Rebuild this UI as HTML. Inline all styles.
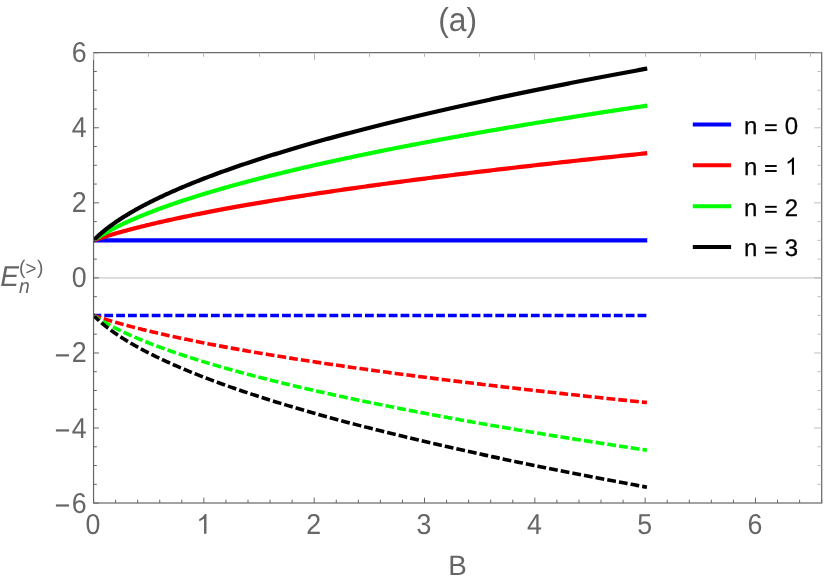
<!DOCTYPE html>
<html><head><meta charset="utf-8"><title>(a)</title>
<style>
html,body{margin:0;padding:0;background:#fff;}
body{width:830px;height:583px;overflow:hidden;position:relative;font-family:"Liberation Sans",sans-serif;}
</style></head><body>
<svg width="830" height="583" viewBox="0 0 830 583" style="position:absolute;left:0;top:0;font-family:'Liberation Sans',sans-serif;text-rendering:geometricPrecision;will-change:transform">
<rect width="830" height="583" fill="#fff"/>
<line x1="93.55" y1="277.95" x2="821.7" y2="277.95" stroke="#bdbdbd" stroke-width="1"/>
<clipPath id="cp"><rect x="93.55" y="52.65" width="728.15" height="450.35"/></clipPath>
<g fill="none" stroke-linejoin="round" clip-path="url(#cp)">
<path d="M93.55,240.37 L93.55,240.37 L93.56,240.37 L93.58,240.37 L93.61,240.37 L93.64,240.37 L93.67,240.37 L93.72,240.37 L93.77,240.37 L93.83,240.37 L93.89,240.37 L93.97,240.37 L94.05,240.37 L94.13,240.37 L94.23,240.37 L94.33,240.37 L94.43,240.37 L94.55,240.37 L94.67,240.37 L94.79,240.37 L94.93,240.37 L95.07,240.37 L95.22,240.37 L95.37,240.37 L95.54,240.37 L95.70,240.37 L95.88,240.37 L96.06,240.37 L96.25,240.37 L96.45,240.37 L96.65,240.37 L96.86,240.37 L97.08,240.37 L97.30,240.37 L97.54,240.37 L97.77,240.37 L98.02,240.37 L98.27,240.37 L98.53,240.37 L98.79,240.37 L99.07,240.37 L99.35,240.37 L99.63,240.37 L99.92,240.37 L100.22,240.37 L100.53,240.37 L100.84,240.37 L101.17,240.37 L101.49,240.37 L101.83,240.37 L102.17,240.37 L102.52,240.37 L102.87,240.37 L103.23,240.37 L103.60,240.37 L103.98,240.37 L104.36,240.37 L104.75,240.37 L105.15,240.37 L105.55,240.37 L105.96,240.37 L106.38,240.37 L106.80,240.37 L107.23,240.37 L107.67,240.37 L108.12,240.37 L108.57,240.37 L109.03,240.37 L109.49,240.37 L109.96,240.37 L110.44,240.37 L110.93,240.37 L111.42,240.37 L111.92,240.37 L112.43,240.37 L112.94,240.37 L113.46,240.37 L113.99,240.37 L114.52,240.37 L115.07,240.37 L115.61,240.37 L116.17,240.37 L116.73,240.37 L117.30,240.37 L117.88,240.37 L118.46,240.37 L119.05,240.37 L119.64,240.37 L120.25,240.37 L120.86,240.37 L121.47,240.37 L122.10,240.37 L122.73,240.37 L123.37,240.37 L124.01,240.37 L124.66,240.37 L125.32,240.37 L125.99,240.37 L126.66,240.37 L127.34,240.37 L128.02,240.37 L128.72,240.37 L129.42,240.37 L130.12,240.37 L130.84,240.37 L131.56,240.37 L132.29,240.37 L133.02,240.37 L133.76,240.37 L134.51,240.37 L135.26,240.37 L136.03,240.37 L136.80,240.37 L137.57,240.37 L138.35,240.37 L139.14,240.37 L139.94,240.37 L140.74,240.37 L141.55,240.37 L142.37,240.37 L143.19,240.37 L144.02,240.37 L144.86,240.37 L145.71,240.37 L146.56,240.37 L147.42,240.37 L148.28,240.37 L149.15,240.37 L150.03,240.37 L150.92,240.37 L151.81,240.37 L152.71,240.37 L153.62,240.37 L154.53,240.37 L155.45,240.37 L156.38,240.37 L157.31,240.37 L158.26,240.37 L159.20,240.37 L160.16,240.37 L161.12,240.37 L162.09,240.37 L163.07,240.37 L164.05,240.37 L165.04,240.37 L166.03,240.37 L167.04,240.37 L168.05,240.37 L169.06,240.37 L170.09,240.37 L171.12,240.37 L172.16,240.37 L173.20,240.37 L174.25,240.37 L175.31,240.37 L176.38,240.37 L177.45,240.37 L178.53,240.37 L179.61,240.37 L180.71,240.37 L181.81,240.37 L182.91,240.37 L184.03,240.37 L185.15,240.37 L186.27,240.37 L187.41,240.37 L188.55,240.37 L189.70,240.37 L190.85,240.37 L192.01,240.37 L193.18,240.37 L194.36,240.37 L195.54,240.37 L196.73,240.37 L197.93,240.37 L199.13,240.37 L200.34,240.37 L201.56,240.37 L202.78,240.37 L204.01,240.37 L205.25,240.37 L206.49,240.37 L207.74,240.37 L209.00,240.37 L210.27,240.37 L211.54,240.37 L212.82,240.37 L214.11,240.37 L215.40,240.37 L216.70,240.37 L218.00,240.37 L219.32,240.37 L220.64,240.37 L221.97,240.37 L223.30,240.37 L224.64,240.37 L225.99,240.37 L227.34,240.37 L228.71,240.37 L230.07,240.37 L231.45,240.37 L232.83,240.37 L234.22,240.37 L235.62,240.37 L237.02,240.37 L238.43,240.37 L239.85,240.37 L241.27,240.37 L242.70,240.37 L244.14,240.37 L245.58,240.37 L247.04,240.37 L248.49,240.37 L249.96,240.37 L251.43,240.37 L252.91,240.37 L254.40,240.37 L255.89,240.37 L257.39,240.37 L258.90,240.37 L260.41,240.37 L261.93,240.37 L263.46,240.37 L264.99,240.37 L266.53,240.37 L268.08,240.37 L269.63,240.37 L271.20,240.37 L272.76,240.37 L274.34,240.37 L275.92,240.37 L277.51,240.37 L279.11,240.37 L280.71,240.37 L282.32,240.37 L283.94,240.37 L285.56,240.37 L287.19,240.37 L288.83,240.37 L290.47,240.37 L292.13,240.37 L293.78,240.37 L295.45,240.37 L297.12,240.37 L298.80,240.37 L300.49,240.37 L302.18,240.37 L303.88,240.37 L305.59,240.37 L307.30,240.37 L309.02,240.37 L310.75,240.37 L312.48,240.37 L314.22,240.37 L315.97,240.37 L317.72,240.37 L319.49,240.37 L321.25,240.37 L323.03,240.37 L324.81,240.37 L326.60,240.37 L328.40,240.37 L330.20,240.37 L332.01,240.37 L333.83,240.37 L335.65,240.37 L337.48,240.37 L339.32,240.37 L341.16,240.37 L343.01,240.37 L344.87,240.37 L346.74,240.37 L348.61,240.37 L350.49,240.37 L352.37,240.37 L354.27,240.37 L356.17,240.37 L358.07,240.37 L359.99,240.37 L361.91,240.37 L363.83,240.37 L365.77,240.37 L367.71,240.37 L369.66,240.37 L371.61,240.37 L373.57,240.37 L375.54,240.37 L377.52,240.37 L379.50,240.37 L381.49,240.37 L383.48,240.37 L385.49,240.37 L387.50,240.37 L389.51,240.37 L391.54,240.37 L393.57,240.37 L395.61,240.37 L397.65,240.37 L399.70,240.37 L401.76,240.37 L403.82,240.37 L405.90,240.37 L407.98,240.37 L410.06,240.37 L412.15,240.37 L414.25,240.37 L416.36,240.37 L418.47,240.37 L420.59,240.37 L422.72,240.37 L424.85,240.37 L427.00,240.37 L429.14,240.37 L431.30,240.37 L433.46,240.37 L435.63,240.37 L437.80,240.37 L439.99,240.37 L442.17,240.37 L444.37,240.37 L446.57,240.37 L448.78,240.37 L451.00,240.37 L453.22,240.37 L455.45,240.37 L457.69,240.37 L459.94,240.37 L462.19,240.37 L464.45,240.37 L466.71,240.37 L468.98,240.37 L471.26,240.37 L473.55,240.37 L475.84,240.37 L478.14,240.37 L480.45,240.37 L482.76,240.37 L485.08,240.37 L487.41,240.37 L489.74,240.37 L492.08,240.37 L494.43,240.37 L496.78,240.37 L499.14,240.37 L501.51,240.37 L503.89,240.37 L506.27,240.37 L508.66,240.37 L511.06,240.37 L513.46,240.37 L515.87,240.37 L518.29,240.37 L520.71,240.37 L523.14,240.37 L525.58,240.37 L528.02,240.37 L530.47,240.37 L532.93,240.37 L535.40,240.37 L537.87,240.37 L540.35,240.37 L542.83,240.37 L545.32,240.37 L547.82,240.37 L550.33,240.37 L552.84,240.37 L555.36,240.37 L557.89,240.37 L560.42,240.37 L562.97,240.37 L565.51,240.37 L568.07,240.37 L570.63,240.37 L573.20,240.37 L575.77,240.37 L578.35,240.37 L580.94,240.37 L583.54,240.37 L586.14,240.37 L588.75,240.37 L591.37,240.37 L593.99,240.37 L596.62,240.37 L599.26,240.37 L601.90,240.37 L604.56,240.37 L607.21,240.37 L609.88,240.37 L612.55,240.37 L615.23,240.37 L617.91,240.37 L620.61,240.37 L623.31,240.37 L626.01,240.37 L628.73,240.37 L631.45,240.37 L634.17,240.37 L636.91,240.37 L639.65,240.37 L642.40,240.37 L645.15,240.37 L647.25,240.37" stroke="#0000ff" stroke-width="4.2"/>
<path d="M93.55,240.37 L93.55,240.37 L93.56,240.36 L93.58,240.36 L93.61,240.35 L93.64,240.34 L93.67,240.32 L93.72,240.31 L93.77,240.29 L93.83,240.27 L93.89,240.25 L93.97,240.23 L94.05,240.20 L94.13,240.17 L94.23,240.14 L94.33,240.10 L94.43,240.07 L94.55,240.03 L94.67,239.99 L94.79,239.95 L94.93,239.90 L95.07,239.85 L95.22,239.80 L95.37,239.75 L95.54,239.70 L95.70,239.64 L95.88,239.58 L96.06,239.52 L96.25,239.46 L96.45,239.39 L96.65,239.33 L96.86,239.26 L97.08,239.18 L97.30,239.11 L97.54,239.03 L97.77,238.96 L98.02,238.88 L98.27,238.79 L98.53,238.71 L98.79,238.62 L99.07,238.54 L99.35,238.44 L99.63,238.35 L99.92,238.26 L100.22,238.16 L100.53,238.06 L100.84,237.96 L101.17,237.86 L101.49,237.76 L101.83,237.65 L102.17,237.54 L102.52,237.43 L102.87,237.32 L103.23,237.21 L103.60,237.09 L103.98,236.97 L104.36,236.85 L104.75,236.73 L105.15,236.61 L105.55,236.48 L105.96,236.36 L106.38,236.23 L106.80,236.10 L107.23,235.97 L107.67,235.84 L108.12,235.70 L108.57,235.57 L109.03,235.43 L109.49,235.29 L109.96,235.15 L110.44,235.00 L110.93,234.86 L111.42,234.71 L111.92,234.57 L112.43,234.42 L112.94,234.27 L113.46,234.11 L113.99,233.96 L114.52,233.80 L115.07,233.65 L115.61,233.49 L116.17,233.33 L116.73,233.17 L117.30,233.01 L117.88,232.84 L118.46,232.68 L119.05,232.51 L119.64,232.35 L120.25,232.18 L120.86,232.01 L121.47,231.84 L122.10,231.66 L122.73,231.49 L123.37,231.31 L124.01,231.14 L124.66,230.96 L125.32,230.78 L125.99,230.60 L126.66,230.42 L127.34,230.24 L128.02,230.05 L128.72,229.87 L129.42,229.68 L130.12,229.50 L130.84,229.31 L131.56,229.12 L132.29,228.93 L133.02,228.74 L133.76,228.55 L134.51,228.35 L135.26,228.16 L136.03,227.96 L136.80,227.77 L137.57,227.57 L138.35,227.37 L139.14,227.17 L139.94,226.97 L140.74,226.77 L141.55,226.57 L142.37,226.37 L143.19,226.16 L144.02,225.96 L144.86,225.75 L145.71,225.55 L146.56,225.34 L147.42,225.13 L148.28,224.92 L149.15,224.71 L150.03,224.50 L150.92,224.29 L151.81,224.08 L152.71,223.87 L153.62,223.65 L154.53,223.44 L155.45,223.22 L156.38,223.01 L157.31,222.79 L158.26,222.57 L159.20,222.35 L160.16,222.13 L161.12,221.91 L162.09,221.69 L163.07,221.47 L164.05,221.25 L165.04,221.03 L166.03,220.80 L167.04,220.58 L168.05,220.36 L169.06,220.13 L170.09,219.90 L171.12,219.68 L172.16,219.45 L173.20,219.22 L174.25,219.00 L175.31,218.77 L176.38,218.54 L177.45,218.31 L178.53,218.08 L179.61,217.84 L180.71,217.61 L181.81,217.38 L182.91,217.15 L184.03,216.91 L185.15,216.68 L186.27,216.44 L187.41,216.21 L188.55,215.97 L189.70,215.74 L190.85,215.50 L192.01,215.26 L193.18,215.03 L194.36,214.79 L195.54,214.55 L196.73,214.31 L197.93,214.07 L199.13,213.83 L200.34,213.59 L201.56,213.35 L202.78,213.11 L204.01,212.86 L205.25,212.62 L206.49,212.38 L207.74,212.13 L209.00,211.89 L210.27,211.65 L211.54,211.40 L212.82,211.16 L214.11,210.91 L215.40,210.66 L216.70,210.42 L218.00,210.17 L219.32,209.92 L220.64,209.68 L221.97,209.43 L223.30,209.18 L224.64,208.93 L225.99,208.68 L227.34,208.43 L228.71,208.18 L230.07,207.93 L231.45,207.68 L232.83,207.43 L234.22,207.18 L235.62,206.93 L237.02,206.68 L238.43,206.42 L239.85,206.17 L241.27,205.92 L242.70,205.66 L244.14,205.41 L245.58,205.16 L247.04,204.90 L248.49,204.65 L249.96,204.39 L251.43,204.14 L252.91,203.88 L254.40,203.63 L255.89,203.37 L257.39,203.11 L258.90,202.86 L260.41,202.60 L261.93,202.34 L263.46,202.08 L264.99,201.83 L266.53,201.57 L268.08,201.31 L269.63,201.05 L271.20,200.79 L272.76,200.53 L274.34,200.27 L275.92,200.01 L277.51,199.75 L279.11,199.49 L280.71,199.23 L282.32,198.97 L283.94,198.71 L285.56,198.45 L287.19,198.19 L288.83,197.93 L290.47,197.66 L292.13,197.40 L293.78,197.14 L295.45,196.88 L297.12,196.61 L298.80,196.35 L300.49,196.09 L302.18,195.82 L303.88,195.56 L305.59,195.29 L307.30,195.03 L309.02,194.76 L310.75,194.50 L312.48,194.23 L314.22,193.97 L315.97,193.70 L317.72,193.44 L319.49,193.17 L321.25,192.91 L323.03,192.64 L324.81,192.37 L326.60,192.11 L328.40,191.84 L330.20,191.57 L332.01,191.30 L333.83,191.04 L335.65,190.77 L337.48,190.50 L339.32,190.23 L341.16,189.97 L343.01,189.70 L344.87,189.43 L346.74,189.16 L348.61,188.89 L350.49,188.62 L352.37,188.35 L354.27,188.08 L356.17,187.81 L358.07,187.54 L359.99,187.27 L361.91,187.00 L363.83,186.73 L365.77,186.46 L367.71,186.19 L369.66,185.92 L371.61,185.65 L373.57,185.38 L375.54,185.11 L377.52,184.84 L379.50,184.56 L381.49,184.29 L383.48,184.02 L385.49,183.75 L387.50,183.48 L389.51,183.20 L391.54,182.93 L393.57,182.66 L395.61,182.39 L397.65,182.11 L399.70,181.84 L401.76,181.57 L403.82,181.29 L405.90,181.02 L407.98,180.75 L410.06,180.47 L412.15,180.20 L414.25,179.92 L416.36,179.65 L418.47,179.38 L420.59,179.10 L422.72,178.83 L424.85,178.55 L427.00,178.28 L429.14,178.00 L431.30,177.73 L433.46,177.45 L435.63,177.18 L437.80,176.90 L439.99,176.63 L442.17,176.35 L444.37,176.08 L446.57,175.80 L448.78,175.52 L451.00,175.25 L453.22,174.97 L455.45,174.69 L457.69,174.42 L459.94,174.14 L462.19,173.86 L464.45,173.59 L466.71,173.31 L468.98,173.03 L471.26,172.76 L473.55,172.48 L475.84,172.20 L478.14,171.92 L480.45,171.65 L482.76,171.37 L485.08,171.09 L487.41,170.81 L489.74,170.54 L492.08,170.26 L494.43,169.98 L496.78,169.70 L499.14,169.42 L501.51,169.14 L503.89,168.87 L506.27,168.59 L508.66,168.31 L511.06,168.03 L513.46,167.75 L515.87,167.47 L518.29,167.19 L520.71,166.91 L523.14,166.63 L525.58,166.36 L528.02,166.08 L530.47,165.80 L532.93,165.52 L535.40,165.24 L537.87,164.96 L540.35,164.68 L542.83,164.40 L545.32,164.12 L547.82,163.84 L550.33,163.56 L552.84,163.28 L555.36,163.00 L557.89,162.72 L560.42,162.43 L562.97,162.15 L565.51,161.87 L568.07,161.59 L570.63,161.31 L573.20,161.03 L575.77,160.75 L578.35,160.47 L580.94,160.19 L583.54,159.91 L586.14,159.62 L588.75,159.34 L591.37,159.06 L593.99,158.78 L596.62,158.50 L599.26,158.22 L601.90,157.94 L604.56,157.65 L607.21,157.37 L609.88,157.09 L612.55,156.81 L615.23,156.53 L617.91,156.24 L620.61,155.96 L623.31,155.68 L626.01,155.40 L628.73,155.11 L631.45,154.83 L634.17,154.55 L636.91,154.27 L639.65,153.98 L642.40,153.70 L645.15,153.42 L647.24,153.20" stroke="#ff0000" stroke-width="4.2"/>
<path d="M93.55,240.37 L93.55,240.36 L93.56,240.36 L93.58,240.35 L93.61,240.33 L93.64,240.31 L93.67,240.28 L93.72,240.25 L93.77,240.22 L93.83,240.18 L93.89,240.13 L93.97,240.08 L94.05,240.03 L94.13,239.97 L94.23,239.91 L94.33,239.84 L94.43,239.77 L94.55,239.70 L94.67,239.61 L94.79,239.53 L94.93,239.44 L95.07,239.35 L95.22,239.25 L95.37,239.15 L95.54,239.04 L95.70,238.93 L95.88,238.81 L96.06,238.69 L96.25,238.57 L96.45,238.44 L96.65,238.31 L96.86,238.18 L97.08,238.04 L97.30,237.89 L97.54,237.75 L97.77,237.60 L98.02,237.44 L98.27,237.28 L98.53,237.12 L98.79,236.95 L99.07,236.78 L99.35,236.61 L99.63,236.43 L99.92,236.25 L100.22,236.07 L100.53,235.88 L100.84,235.69 L101.17,235.50 L101.49,235.30 L101.83,235.10 L102.17,234.90 L102.52,234.69 L102.87,234.48 L103.23,234.27 L103.60,234.06 L103.98,233.84 L104.36,233.62 L104.75,233.39 L105.15,233.17 L105.55,232.94 L105.96,232.70 L106.38,232.47 L106.80,232.23 L107.23,231.99 L107.67,231.75 L108.12,231.50 L108.57,231.25 L109.03,231.00 L109.49,230.75 L109.96,230.50 L110.44,230.24 L110.93,229.98 L111.42,229.72 L111.92,229.45 L112.43,229.19 L112.94,228.92 L113.46,228.65 L113.99,228.37 L114.52,228.10 L115.07,227.82 L115.61,227.54 L116.17,227.26 L116.73,226.98 L117.30,226.70 L117.88,226.41 L118.46,226.12 L119.05,225.83 L119.64,225.54 L120.25,225.25 L120.86,224.95 L121.47,224.65 L122.10,224.36 L122.73,224.06 L123.37,223.75 L124.01,223.45 L124.66,223.15 L125.32,222.84 L125.99,222.53 L126.66,222.22 L127.34,221.91 L128.02,221.60 L128.72,221.29 L129.42,220.97 L130.12,220.66 L130.84,220.34 L131.56,220.02 L132.29,219.70 L133.02,219.38 L133.76,219.06 L134.51,218.73 L135.26,218.41 L136.03,218.08 L136.80,217.75 L137.57,217.42 L138.35,217.10 L139.14,216.76 L139.94,216.43 L140.74,216.10 L141.55,215.77 L142.37,215.43 L143.19,215.10 L144.02,214.76 L144.86,214.42 L145.71,214.08 L146.56,213.74 L147.42,213.40 L148.28,213.06 L149.15,212.72 L150.03,212.37 L150.92,212.03 L151.81,211.68 L152.71,211.34 L153.62,210.99 L154.53,210.64 L155.45,210.29 L156.38,209.94 L157.31,209.59 L158.26,209.24 L159.20,208.89 L160.16,208.54 L161.12,208.19 L162.09,207.83 L163.07,207.48 L164.05,207.12 L165.04,206.77 L166.03,206.41 L167.04,206.05 L168.05,205.69 L169.06,205.33 L170.09,204.97 L171.12,204.61 L172.16,204.25 L173.20,203.89 L174.25,203.53 L175.31,203.17 L176.38,202.80 L177.45,202.44 L178.53,202.08 L179.61,201.71 L180.71,201.35 L181.81,200.98 L182.91,200.61 L184.03,200.25 L185.15,199.88 L186.27,199.51 L187.41,199.14 L188.55,198.77 L189.70,198.40 L190.85,198.03 L192.01,197.66 L193.18,197.29 L194.36,196.92 L195.54,196.55 L196.73,196.18 L197.93,195.80 L199.13,195.43 L200.34,195.05 L201.56,194.68 L202.78,194.31 L204.01,193.93 L205.25,193.56 L206.49,193.18 L207.74,192.80 L209.00,192.43 L210.27,192.05 L211.54,191.67 L212.82,191.29 L214.11,190.91 L215.40,190.54 L216.70,190.16 L218.00,189.78 L219.32,189.40 L220.64,189.02 L221.97,188.64 L223.30,188.26 L224.64,187.87 L225.99,187.49 L227.34,187.11 L228.71,186.73 L230.07,186.35 L231.45,185.96 L232.83,185.58 L234.22,185.20 L235.62,184.81 L237.02,184.43 L238.43,184.04 L239.85,183.66 L241.27,183.27 L242.70,182.89 L244.14,182.50 L245.58,182.12 L247.04,181.73 L248.49,181.34 L249.96,180.96 L251.43,180.57 L252.91,180.18 L254.40,179.80 L255.89,179.41 L257.39,179.02 L258.90,178.63 L260.41,178.24 L261.93,177.85 L263.46,177.47 L264.99,177.08 L266.53,176.69 L268.08,176.30 L269.63,175.91 L271.20,175.52 L272.76,175.13 L274.34,174.73 L275.92,174.34 L277.51,173.95 L279.11,173.56 L280.71,173.17 L282.32,172.78 L283.94,172.39 L285.56,171.99 L287.19,171.60 L288.83,171.21 L290.47,170.81 L292.13,170.42 L293.78,170.03 L295.45,169.64 L297.12,169.24 L298.80,168.85 L300.49,168.45 L302.18,168.06 L303.88,167.66 L305.59,167.27 L307.30,166.88 L309.02,166.48 L310.75,166.08 L312.48,165.69 L314.22,165.29 L315.97,164.90 L317.72,164.50 L319.49,164.11 L321.25,163.71 L323.03,163.31 L324.81,162.92 L326.60,162.52 L328.40,162.12 L330.20,161.73 L332.01,161.33 L333.83,160.93 L335.65,160.53 L337.48,160.14 L339.32,159.74 L341.16,159.34 L343.01,158.94 L344.87,158.54 L346.74,158.15 L348.61,157.75 L350.49,157.35 L352.37,156.95 L354.27,156.55 L356.17,156.15 L358.07,155.75 L359.99,155.35 L361.91,154.95 L363.83,154.55 L365.77,154.15 L367.71,153.75 L369.66,153.35 L371.61,152.95 L373.57,152.55 L375.54,152.15 L377.52,151.75 L379.50,151.35 L381.49,150.95 L383.48,150.55 L385.49,150.15 L387.50,149.75 L389.51,149.35 L391.54,148.95 L393.57,148.54 L395.61,148.14 L397.65,147.74 L399.70,147.34 L401.76,146.94 L403.82,146.53 L405.90,146.13 L407.98,145.73 L410.06,145.33 L412.15,144.93 L414.25,144.52 L416.36,144.12 L418.47,143.72 L420.59,143.31 L422.72,142.91 L424.85,142.51 L427.00,142.10 L429.14,141.70 L431.30,141.30 L433.46,140.89 L435.63,140.49 L437.80,140.09 L439.99,139.68 L442.17,139.28 L444.37,138.88 L446.57,138.47 L448.78,138.07 L451.00,137.66 L453.22,137.26 L455.45,136.85 L457.69,136.45 L459.94,136.04 L462.19,135.64 L464.45,135.24 L466.71,134.83 L468.98,134.43 L471.26,134.02 L473.55,133.62 L475.84,133.21 L478.14,132.80 L480.45,132.40 L482.76,131.99 L485.08,131.59 L487.41,131.18 L489.74,130.78 L492.08,130.37 L494.43,129.97 L496.78,129.56 L499.14,129.15 L501.51,128.75 L503.89,128.34 L506.27,127.93 L508.66,127.53 L511.06,127.12 L513.46,126.72 L515.87,126.31 L518.29,125.90 L520.71,125.50 L523.14,125.09 L525.58,124.68 L528.02,124.28 L530.47,123.87 L532.93,123.46 L535.40,123.05 L537.87,122.65 L540.35,122.24 L542.83,121.83 L545.32,121.43 L547.82,121.02 L550.33,120.61 L552.84,120.20 L555.36,119.80 L557.89,119.39 L560.42,118.98 L562.97,118.57 L565.51,118.16 L568.07,117.76 L570.63,117.35 L573.20,116.94 L575.77,116.53 L578.35,116.12 L580.94,115.72 L583.54,115.31 L586.14,114.90 L588.75,114.49 L591.37,114.08 L593.99,113.67 L596.62,113.27 L599.26,112.86 L601.90,112.45 L604.56,112.04 L607.21,111.63 L609.88,111.22 L612.55,110.81 L615.23,110.40 L617.91,109.99 L620.61,109.59 L623.31,109.18 L626.01,108.77 L628.73,108.36 L631.45,107.95 L634.17,107.54 L636.91,107.13 L639.65,106.72 L642.40,106.31 L645.15,105.90 L647.23,105.59" stroke="#00ff00" stroke-width="4.2"/>
<path d="M93.55,240.37 L93.55,240.36 L93.56,240.35 L93.58,240.34 L93.61,240.31 L93.64,240.28 L93.67,240.24 L93.72,240.19 L93.77,240.14 L93.83,240.08 L93.89,240.02 L93.97,239.94 L94.05,239.86 L94.13,239.78 L94.23,239.68 L94.33,239.58 L94.43,239.48 L94.55,239.36 L94.67,239.24 L94.79,239.12 L94.93,238.98 L95.07,238.85 L95.22,238.70 L95.37,238.55 L95.54,238.39 L95.70,238.23 L95.88,238.06 L96.06,237.88 L96.25,237.70 L96.45,237.52 L96.65,237.32 L96.86,237.13 L97.08,236.92 L97.30,236.71 L97.54,236.50 L97.77,236.28 L98.02,236.05 L98.27,235.82 L98.53,235.59 L98.79,235.35 L99.07,235.11 L99.35,234.86 L99.63,234.60 L99.92,234.34 L100.22,234.08 L100.53,233.81 L100.84,233.54 L101.17,233.27 L101.49,232.99 L101.83,232.70 L102.17,232.41 L102.52,232.12 L102.87,231.82 L103.23,231.52 L103.60,231.22 L103.98,230.91 L104.36,230.60 L104.75,230.29 L105.15,229.97 L105.55,229.65 L105.96,229.32 L106.38,229.00 L106.80,228.67 L107.23,228.33 L107.67,227.99 L108.12,227.65 L108.57,227.31 L109.03,226.96 L109.49,226.62 L109.96,226.26 L110.44,225.91 L110.93,225.55 L111.42,225.19 L111.92,224.83 L112.43,224.47 L112.94,224.10 L113.46,223.73 L113.99,223.36 L114.52,222.98 L115.07,222.61 L115.61,222.23 L116.17,221.85 L116.73,221.47 L117.30,221.08 L117.88,220.69 L118.46,220.31 L119.05,219.91 L119.64,219.52 L120.25,219.13 L120.86,218.73 L121.47,218.33 L122.10,217.93 L122.73,217.53 L123.37,217.13 L124.01,216.72 L124.66,216.32 L125.32,215.91 L125.99,215.50 L126.66,215.09 L127.34,214.67 L128.02,214.26 L128.72,213.84 L129.42,213.43 L130.12,213.01 L130.84,212.59 L131.56,212.17 L132.29,211.74 L133.02,211.32 L133.76,210.90 L134.51,210.47 L135.26,210.04 L136.03,209.61 L136.80,209.18 L137.57,208.75 L138.35,208.32 L139.14,207.89 L139.94,207.45 L140.74,207.02 L141.55,206.58 L142.37,206.14 L143.19,205.70 L144.02,205.26 L144.86,204.82 L145.71,204.38 L146.56,203.94 L147.42,203.50 L148.28,203.05 L149.15,202.61 L150.03,202.16 L150.92,201.71 L151.81,201.27 L152.71,200.82 L153.62,200.37 L154.53,199.92 L155.45,199.47 L156.38,199.02 L157.31,198.56 L158.26,198.11 L159.20,197.66 L160.16,197.20 L161.12,196.75 L162.09,196.29 L163.07,195.83 L164.05,195.38 L165.04,194.92 L166.03,194.46 L167.04,194.00 L168.05,193.54 L169.06,193.08 L170.09,192.62 L171.12,192.16 L172.16,191.70 L173.20,191.23 L174.25,190.77 L175.31,190.30 L176.38,189.84 L177.45,189.37 L178.53,188.91 L179.61,188.44 L180.71,187.98 L181.81,187.51 L182.91,187.04 L184.03,186.57 L185.15,186.10 L186.27,185.63 L187.41,185.16 L188.55,184.69 L189.70,184.22 L190.85,183.75 L192.01,183.28 L193.18,182.81 L194.36,182.34 L195.54,181.86 L196.73,181.39 L197.93,180.92 L199.13,180.44 L200.34,179.97 L201.56,179.49 L202.78,179.02 L204.01,178.54 L205.25,178.07 L206.49,177.59 L207.74,177.11 L209.00,176.64 L210.27,176.16 L211.54,175.68 L212.82,175.20 L214.11,174.72 L215.40,174.25 L216.70,173.77 L218.00,173.29 L219.32,172.81 L220.64,172.33 L221.97,171.85 L223.30,171.36 L224.64,170.88 L225.99,170.40 L227.34,169.92 L228.71,169.44 L230.07,168.96 L231.45,168.47 L232.83,167.99 L234.22,167.51 L235.62,167.02 L237.02,166.54 L238.43,166.06 L239.85,165.57 L241.27,165.09 L242.70,164.60 L244.14,164.12 L245.58,163.63 L247.04,163.15 L248.49,162.66 L249.96,162.17 L251.43,161.69 L252.91,161.20 L254.40,160.72 L255.89,160.23 L257.39,159.74 L258.90,159.25 L260.41,158.77 L261.93,158.28 L263.46,157.79 L264.99,157.30 L266.53,156.81 L268.08,156.32 L269.63,155.84 L271.20,155.35 L272.76,154.86 L274.34,154.37 L275.92,153.88 L277.51,153.39 L279.11,152.90 L280.71,152.41 L282.32,151.92 L283.94,151.43 L285.56,150.94 L287.19,150.44 L288.83,149.95 L290.47,149.46 L292.13,148.97 L293.78,148.48 L295.45,147.99 L297.12,147.49 L298.80,147.00 L300.49,146.51 L302.18,146.02 L303.88,145.52 L305.59,145.03 L307.30,144.54 L309.02,144.04 L310.75,143.55 L312.48,143.06 L314.22,142.56 L315.97,142.07 L317.72,141.58 L319.49,141.08 L321.25,140.59 L323.03,140.09 L324.81,139.60 L326.60,139.10 L328.40,138.61 L330.20,138.11 L332.01,137.62 L333.83,137.12 L335.65,136.63 L337.48,136.13 L339.32,135.64 L341.16,135.14 L343.01,134.65 L344.87,134.15 L346.74,133.65 L348.61,133.16 L350.49,132.66 L352.37,132.16 L354.27,131.67 L356.17,131.17 L358.07,130.67 L359.99,130.18 L361.91,129.68 L363.83,129.18 L365.77,128.68 L367.71,128.19 L369.66,127.69 L371.61,127.19 L373.57,126.69 L375.54,126.20 L377.52,125.70 L379.50,125.20 L381.49,124.70 L383.48,124.20 L385.49,123.71 L387.50,123.21 L389.51,122.71 L391.54,122.21 L393.57,121.71 L395.61,121.21 L397.65,120.71 L399.70,120.21 L401.76,119.71 L403.82,119.21 L405.90,118.72 L407.98,118.22 L410.06,117.72 L412.15,117.22 L414.25,116.72 L416.36,116.22 L418.47,115.72 L420.59,115.22 L422.72,114.72 L424.85,114.22 L427.00,113.72 L429.14,113.22 L431.30,112.72 L433.46,112.22 L435.63,111.71 L437.80,111.21 L439.99,110.71 L442.17,110.21 L444.37,109.71 L446.57,109.21 L448.78,108.71 L451.00,108.21 L453.22,107.71 L455.45,107.21 L457.69,106.70 L459.94,106.20 L462.19,105.70 L464.45,105.20 L466.71,104.70 L468.98,104.20 L471.26,103.69 L473.55,103.19 L475.84,102.69 L478.14,102.19 L480.45,101.69 L482.76,101.18 L485.08,100.68 L487.41,100.18 L489.74,99.68 L492.08,99.17 L494.43,98.67 L496.78,98.17 L499.14,97.67 L501.51,97.16 L503.89,96.66 L506.27,96.16 L508.66,95.66 L511.06,95.15 L513.46,94.65 L515.87,94.15 L518.29,93.64 L520.71,93.14 L523.14,92.64 L525.58,92.13 L528.02,91.63 L530.47,91.13 L532.93,90.62 L535.40,90.12 L537.87,89.62 L540.35,89.11 L542.83,88.61 L545.32,88.10 L547.82,87.60 L550.33,87.10 L552.84,86.59 L555.36,86.09 L557.89,85.59 L560.42,85.08 L562.97,84.58 L565.51,84.07 L568.07,83.57 L570.63,83.06 L573.20,82.56 L575.77,82.06 L578.35,81.55 L580.94,81.05 L583.54,80.54 L586.14,80.04 L588.75,79.53 L591.37,79.03 L593.99,78.52 L596.62,78.02 L599.26,77.51 L601.90,77.01 L604.56,76.50 L607.21,76.00 L609.88,75.49 L612.55,74.99 L615.23,74.48 L617.91,73.98 L620.61,73.47 L623.31,72.97 L626.01,72.46 L628.73,71.96 L631.45,71.45 L634.17,70.95 L636.91,70.44 L639.65,69.94 L642.40,69.43 L645.15,68.93 L647.22,68.55" stroke="#000000" stroke-width="4.2"/>
<path d="M93.55,315.43 L93.55,315.43 L93.56,315.43 L93.58,315.43 L93.61,315.43 L93.64,315.43 L93.67,315.43 L93.72,315.43 L93.77,315.43 L93.83,315.43 L93.89,315.43 L93.97,315.43 L94.05,315.43 L94.13,315.43 L94.23,315.43 L94.33,315.43 L94.43,315.43 L94.55,315.43 L94.67,315.43 L94.79,315.43 L94.93,315.43 L95.07,315.43 L95.22,315.43 L95.37,315.43 L95.54,315.43 L95.70,315.43 L95.88,315.43 L96.06,315.43 L96.25,315.43 L96.45,315.43 L96.65,315.43 L96.86,315.43 L97.08,315.43 L97.30,315.43 L97.54,315.43 L97.77,315.43 L98.02,315.43 L98.27,315.43 L98.53,315.43 L98.79,315.43 L99.07,315.43 L99.35,315.43 L99.63,315.43 L99.92,315.43 L100.22,315.43 L100.53,315.43 L100.84,315.43 L101.17,315.43 L101.49,315.43 L101.83,315.43 L102.17,315.43 L102.52,315.43 L102.87,315.43 L103.23,315.43 L103.60,315.43 L103.98,315.43 L104.36,315.43 L104.75,315.43 L105.15,315.43 L105.55,315.43 L105.96,315.43 L106.38,315.43 L106.80,315.43 L107.23,315.43 L107.67,315.43 L108.12,315.43 L108.57,315.43 L109.03,315.43 L109.49,315.43 L109.96,315.43 L110.44,315.43 L110.93,315.43 L111.42,315.43 L111.92,315.43 L112.43,315.43 L112.94,315.43 L113.46,315.43 L113.99,315.43 L114.52,315.43 L115.07,315.43 L115.61,315.43 L116.17,315.43 L116.73,315.43 L117.30,315.43 L117.88,315.43 L118.46,315.43 L119.05,315.43 L119.64,315.43 L120.25,315.43 L120.86,315.43 L121.47,315.43 L122.10,315.43 L122.73,315.43 L123.37,315.43 L124.01,315.43 L124.66,315.43 L125.32,315.43 L125.99,315.43 L126.66,315.43 L127.34,315.43 L128.02,315.43 L128.72,315.43 L129.42,315.43 L130.12,315.43 L130.84,315.43 L131.56,315.43 L132.29,315.43 L133.02,315.43 L133.76,315.43 L134.51,315.43 L135.26,315.43 L136.03,315.43 L136.80,315.43 L137.57,315.43 L138.35,315.43 L139.14,315.43 L139.94,315.43 L140.74,315.43 L141.55,315.43 L142.37,315.43 L143.19,315.43 L144.02,315.43 L144.86,315.43 L145.71,315.43 L146.56,315.43 L147.42,315.43 L148.28,315.43 L149.15,315.43 L150.03,315.43 L150.92,315.43 L151.81,315.43 L152.71,315.43 L153.62,315.43 L154.53,315.43 L155.45,315.43 L156.38,315.43 L157.31,315.43 L158.26,315.43 L159.20,315.43 L160.16,315.43 L161.12,315.43 L162.09,315.43 L163.07,315.43 L164.05,315.43 L165.04,315.43 L166.03,315.43 L167.04,315.43 L168.05,315.43 L169.06,315.43 L170.09,315.43 L171.12,315.43 L172.16,315.43 L173.20,315.43 L174.25,315.43 L175.31,315.43 L176.38,315.43 L177.45,315.43 L178.53,315.43 L179.61,315.43 L180.71,315.43 L181.81,315.43 L182.91,315.43 L184.03,315.43 L185.15,315.43 L186.27,315.43 L187.41,315.43 L188.55,315.43 L189.70,315.43 L190.85,315.43 L192.01,315.43 L193.18,315.43 L194.36,315.43 L195.54,315.43 L196.73,315.43 L197.93,315.43 L199.13,315.43 L200.34,315.43 L201.56,315.43 L202.78,315.43 L204.01,315.43 L205.25,315.43 L206.49,315.43 L207.74,315.43 L209.00,315.43 L210.27,315.43 L211.54,315.43 L212.82,315.43 L214.11,315.43 L215.40,315.43 L216.70,315.43 L218.00,315.43 L219.32,315.43 L220.64,315.43 L221.97,315.43 L223.30,315.43 L224.64,315.43 L225.99,315.43 L227.34,315.43 L228.71,315.43 L230.07,315.43 L231.45,315.43 L232.83,315.43 L234.22,315.43 L235.62,315.43 L237.02,315.43 L238.43,315.43 L239.85,315.43 L241.27,315.43 L242.70,315.43 L244.14,315.43 L245.58,315.43 L247.04,315.43 L248.49,315.43 L249.96,315.43 L251.43,315.43 L252.91,315.43 L254.40,315.43 L255.89,315.43 L257.39,315.43 L258.90,315.43 L260.41,315.43 L261.93,315.43 L263.46,315.43 L264.99,315.43 L266.53,315.43 L268.08,315.43 L269.63,315.43 L271.20,315.43 L272.76,315.43 L274.34,315.43 L275.92,315.43 L277.51,315.43 L279.11,315.43 L280.71,315.43 L282.32,315.43 L283.94,315.43 L285.56,315.43 L287.19,315.43 L288.83,315.43 L290.47,315.43 L292.13,315.43 L293.78,315.43 L295.45,315.43 L297.12,315.43 L298.80,315.43 L300.49,315.43 L302.18,315.43 L303.88,315.43 L305.59,315.43 L307.30,315.43 L309.02,315.43 L310.75,315.43 L312.48,315.43 L314.22,315.43 L315.97,315.43 L317.72,315.43 L319.49,315.43 L321.25,315.43 L323.03,315.43 L324.81,315.43 L326.60,315.43 L328.40,315.43 L330.20,315.43 L332.01,315.43 L333.83,315.43 L335.65,315.43 L337.48,315.43 L339.32,315.43 L341.16,315.43 L343.01,315.43 L344.87,315.43 L346.74,315.43 L348.61,315.43 L350.49,315.43 L352.37,315.43 L354.27,315.43 L356.17,315.43 L358.07,315.43 L359.99,315.43 L361.91,315.43 L363.83,315.43 L365.77,315.43 L367.71,315.43 L369.66,315.43 L371.61,315.43 L373.57,315.43 L375.54,315.43 L377.52,315.43 L379.50,315.43 L381.49,315.43 L383.48,315.43 L385.49,315.43 L387.50,315.43 L389.51,315.43 L391.54,315.43 L393.57,315.43 L395.61,315.43 L397.65,315.43 L399.70,315.43 L401.76,315.43 L403.82,315.43 L405.90,315.43 L407.98,315.43 L410.06,315.43 L412.15,315.43 L414.25,315.43 L416.36,315.43 L418.47,315.43 L420.59,315.43 L422.72,315.43 L424.85,315.43 L427.00,315.43 L429.14,315.43 L431.30,315.43 L433.46,315.43 L435.63,315.43 L437.80,315.43 L439.99,315.43 L442.17,315.43 L444.37,315.43 L446.57,315.43 L448.78,315.43 L451.00,315.43 L453.22,315.43 L455.45,315.43 L457.69,315.43 L459.94,315.43 L462.19,315.43 L464.45,315.43 L466.71,315.43 L468.98,315.43 L471.26,315.43 L473.55,315.43 L475.84,315.43 L478.14,315.43 L480.45,315.43 L482.76,315.43 L485.08,315.43 L487.41,315.43 L489.74,315.43 L492.08,315.43 L494.43,315.43 L496.78,315.43 L499.14,315.43 L501.51,315.43 L503.89,315.43 L506.27,315.43 L508.66,315.43 L511.06,315.43 L513.46,315.43 L515.87,315.43 L518.29,315.43 L520.71,315.43 L523.14,315.43 L525.58,315.43 L528.02,315.43 L530.47,315.43 L532.93,315.43 L535.40,315.43 L537.87,315.43 L540.35,315.43 L542.83,315.43 L545.32,315.43 L547.82,315.43 L550.33,315.43 L552.84,315.43 L555.36,315.43 L557.89,315.43 L560.42,315.43 L562.97,315.43 L565.51,315.43 L568.07,315.43 L570.63,315.43 L573.20,315.43 L575.77,315.43 L578.35,315.43 L580.94,315.43 L583.54,315.43 L586.14,315.43 L588.75,315.43 L591.37,315.43 L593.99,315.43 L596.62,315.43 L599.26,315.43 L601.90,315.43 L604.56,315.43 L607.21,315.43 L609.88,315.43 L612.55,315.43 L615.23,315.43 L617.91,315.43 L620.61,315.43 L623.31,315.43 L626.01,315.43 L628.73,315.43 L631.45,315.43 L634.17,315.43 L636.91,315.43 L639.65,315.43 L642.40,315.43 L645.15,315.43 L646.95,315.43" stroke="#0000ff" stroke-width="3.6" stroke-dasharray="8.8 3.05" stroke-dashoffset="1.1"/>
<path d="M93.55,315.43 L93.55,315.43 L93.56,315.44 L93.58,315.44 L93.61,315.45 L93.64,315.46 L93.67,315.48 L93.72,315.49 L93.77,315.51 L93.83,315.53 L93.89,315.55 L93.97,315.57 L94.05,315.60 L94.13,315.63 L94.23,315.66 L94.33,315.70 L94.43,315.73 L94.55,315.77 L94.67,315.81 L94.79,315.85 L94.93,315.90 L95.07,315.95 L95.22,316.00 L95.37,316.05 L95.54,316.10 L95.70,316.16 L95.88,316.22 L96.06,316.28 L96.25,316.34 L96.45,316.41 L96.65,316.47 L96.86,316.54 L97.08,316.62 L97.30,316.69 L97.54,316.77 L97.77,316.84 L98.02,316.92 L98.27,317.01 L98.53,317.09 L98.79,317.18 L99.07,317.26 L99.35,317.36 L99.63,317.45 L99.92,317.54 L100.22,317.64 L100.53,317.74 L100.84,317.84 L101.17,317.94 L101.49,318.04 L101.83,318.15 L102.17,318.26 L102.52,318.37 L102.87,318.48 L103.23,318.59 L103.60,318.71 L103.98,318.83 L104.36,318.95 L104.75,319.07 L105.15,319.19 L105.55,319.32 L105.96,319.44 L106.38,319.57 L106.80,319.70 L107.23,319.83 L107.67,319.96 L108.12,320.10 L108.57,320.23 L109.03,320.37 L109.49,320.51 L109.96,320.65 L110.44,320.80 L110.93,320.94 L111.42,321.09 L111.92,321.23 L112.43,321.38 L112.94,321.53 L113.46,321.69 L113.99,321.84 L114.52,322.00 L115.07,322.15 L115.61,322.31 L116.17,322.47 L116.73,322.63 L117.30,322.79 L117.88,322.96 L118.46,323.12 L119.05,323.29 L119.64,323.45 L120.25,323.62 L120.86,323.79 L121.47,323.96 L122.10,324.14 L122.73,324.31 L123.37,324.49 L124.01,324.66 L124.66,324.84 L125.32,325.02 L125.99,325.20 L126.66,325.38 L127.34,325.56 L128.02,325.75 L128.72,325.93 L129.42,326.12 L130.12,326.30 L130.84,326.49 L131.56,326.68 L132.29,326.87 L133.02,327.06 L133.76,327.25 L134.51,327.45 L135.26,327.64 L136.03,327.84 L136.80,328.03 L137.57,328.23 L138.35,328.43 L139.14,328.63 L139.94,328.83 L140.74,329.03 L141.55,329.23 L142.37,329.43 L143.19,329.64 L144.02,329.84 L144.86,330.05 L145.71,330.25 L146.56,330.46 L147.42,330.67 L148.28,330.88 L149.15,331.09 L150.03,331.30 L150.92,331.51 L151.81,331.72 L152.71,331.93 L153.62,332.15 L154.53,332.36 L155.45,332.58 L156.38,332.79 L157.31,333.01 L158.26,333.23 L159.20,333.45 L160.16,333.67 L161.12,333.89 L162.09,334.11 L163.07,334.33 L164.05,334.55 L165.04,334.77 L166.03,335.00 L167.04,335.22 L168.05,335.44 L169.06,335.67 L170.09,335.90 L171.12,336.12 L172.16,336.35 L173.20,336.58 L174.25,336.80 L175.31,337.03 L176.38,337.26 L177.45,337.49 L178.53,337.72 L179.61,337.96 L180.71,338.19 L181.81,338.42 L182.91,338.65 L184.03,338.89 L185.15,339.12 L186.27,339.36 L187.41,339.59 L188.55,339.83 L189.70,340.06 L190.85,340.30 L192.01,340.54 L193.18,340.77 L194.36,341.01 L195.54,341.25 L196.73,341.49 L197.93,341.73 L199.13,341.97 L200.34,342.21 L201.56,342.45 L202.78,342.69 L204.01,342.94 L205.25,343.18 L206.49,343.42 L207.74,343.67 L209.00,343.91 L210.27,344.15 L211.54,344.40 L212.82,344.64 L214.11,344.89 L215.40,345.14 L216.70,345.38 L218.00,345.63 L219.32,345.88 L220.64,346.12 L221.97,346.37 L223.30,346.62 L224.64,346.87 L225.99,347.12 L227.34,347.37 L228.71,347.62 L230.07,347.87 L231.45,348.12 L232.83,348.37 L234.22,348.62 L235.62,348.87 L237.02,349.12 L238.43,349.38 L239.85,349.63 L241.27,349.88 L242.70,350.14 L244.14,350.39 L245.58,350.64 L247.04,350.90 L248.49,351.15 L249.96,351.41 L251.43,351.66 L252.91,351.92 L254.40,352.17 L255.89,352.43 L257.39,352.69 L258.90,352.94 L260.41,353.20 L261.93,353.46 L263.46,353.72 L264.99,353.97 L266.53,354.23 L268.08,354.49 L269.63,354.75 L271.20,355.01 L272.76,355.27 L274.34,355.53 L275.92,355.79 L277.51,356.05 L279.11,356.31 L280.71,356.57 L282.32,356.83 L283.94,357.09 L285.56,357.35 L287.19,357.61 L288.83,357.87 L290.47,358.14 L292.13,358.40 L293.78,358.66 L295.45,358.92 L297.12,359.19 L298.80,359.45 L300.49,359.71 L302.18,359.98 L303.88,360.24 L305.59,360.51 L307.30,360.77 L309.02,361.04 L310.75,361.30 L312.48,361.57 L314.22,361.83 L315.97,362.10 L317.72,362.36 L319.49,362.63 L321.25,362.89 L323.03,363.16 L324.81,363.43 L326.60,363.69 L328.40,363.96 L330.20,364.23 L332.01,364.50 L333.83,364.76 L335.65,365.03 L337.48,365.30 L339.32,365.57 L341.16,365.83 L343.01,366.10 L344.87,366.37 L346.74,366.64 L348.61,366.91 L350.49,367.18 L352.37,367.45 L354.27,367.72 L356.17,367.99 L358.07,368.26 L359.99,368.53 L361.91,368.80 L363.83,369.07 L365.77,369.34 L367.71,369.61 L369.66,369.88 L371.61,370.15 L373.57,370.42 L375.54,370.69 L377.52,370.96 L379.50,371.24 L381.49,371.51 L383.48,371.78 L385.49,372.05 L387.50,372.32 L389.51,372.60 L391.54,372.87 L393.57,373.14 L395.61,373.41 L397.65,373.69 L399.70,373.96 L401.76,374.23 L403.82,374.51 L405.90,374.78 L407.98,375.05 L410.06,375.33 L412.15,375.60 L414.25,375.88 L416.36,376.15 L418.47,376.42 L420.59,376.70 L422.72,376.97 L424.85,377.25 L427.00,377.52 L429.14,377.80 L431.30,378.07 L433.46,378.35 L435.63,378.62 L437.80,378.90 L439.99,379.17 L442.17,379.45 L444.37,379.72 L446.57,380.00 L448.78,380.28 L451.00,380.55 L453.22,380.83 L455.45,381.11 L457.69,381.38 L459.94,381.66 L462.19,381.94 L464.45,382.21 L466.71,382.49 L468.98,382.77 L471.26,383.04 L473.55,383.32 L475.84,383.60 L478.14,383.88 L480.45,384.15 L482.76,384.43 L485.08,384.71 L487.41,384.99 L489.74,385.26 L492.08,385.54 L494.43,385.82 L496.78,386.10 L499.14,386.38 L501.51,386.66 L503.89,386.93 L506.27,387.21 L508.66,387.49 L511.06,387.77 L513.46,388.05 L515.87,388.33 L518.29,388.61 L520.71,388.89 L523.14,389.17 L525.58,389.44 L528.02,389.72 L530.47,390.00 L532.93,390.28 L535.40,390.56 L537.87,390.84 L540.35,391.12 L542.83,391.40 L545.32,391.68 L547.82,391.96 L550.33,392.24 L552.84,392.52 L555.36,392.80 L557.89,393.08 L560.42,393.37 L562.97,393.65 L565.51,393.93 L568.07,394.21 L570.63,394.49 L573.20,394.77 L575.77,395.05 L578.35,395.33 L580.94,395.61 L583.54,395.89 L586.14,396.18 L588.75,396.46 L591.37,396.74 L593.99,397.02 L596.62,397.30 L599.26,397.58 L601.90,397.86 L604.56,398.15 L607.21,398.43 L609.88,398.71 L612.55,398.99 L615.23,399.27 L617.91,399.56 L620.61,399.84 L623.31,400.12 L626.01,400.40 L628.73,400.69 L631.45,400.97 L634.17,401.25 L636.91,401.53 L639.65,401.82 L642.40,402.10 L645.15,402.38 L646.94,402.57" stroke="#ff0000" stroke-width="3.6" stroke-dasharray="8.8 3.05" stroke-dashoffset="1.1"/>
<path d="M93.55,315.43 L93.55,315.44 L93.56,315.44 L93.58,315.45 L93.61,315.47 L93.64,315.49 L93.67,315.52 L93.72,315.55 L93.77,315.58 L93.83,315.62 L93.89,315.67 L93.97,315.72 L94.05,315.77 L94.13,315.83 L94.23,315.89 L94.33,315.96 L94.43,316.03 L94.55,316.10 L94.67,316.19 L94.79,316.27 L94.93,316.36 L95.07,316.45 L95.22,316.55 L95.37,316.65 L95.54,316.76 L95.70,316.87 L95.88,316.99 L96.06,317.11 L96.25,317.23 L96.45,317.36 L96.65,317.49 L96.86,317.62 L97.08,317.76 L97.30,317.91 L97.54,318.05 L97.77,318.20 L98.02,318.36 L98.27,318.52 L98.53,318.68 L98.79,318.85 L99.07,319.02 L99.35,319.19 L99.63,319.37 L99.92,319.55 L100.22,319.73 L100.53,319.92 L100.84,320.11 L101.17,320.30 L101.49,320.50 L101.83,320.70 L102.17,320.90 L102.52,321.11 L102.87,321.32 L103.23,321.53 L103.60,321.74 L103.98,321.96 L104.36,322.18 L104.75,322.41 L105.15,322.63 L105.55,322.86 L105.96,323.10 L106.38,323.33 L106.80,323.57 L107.23,323.81 L107.67,324.05 L108.12,324.30 L108.57,324.55 L109.03,324.80 L109.49,325.05 L109.96,325.30 L110.44,325.56 L110.93,325.82 L111.42,326.08 L111.92,326.35 L112.43,326.61 L112.94,326.88 L113.46,327.15 L113.99,327.43 L114.52,327.70 L115.07,327.98 L115.61,328.26 L116.17,328.54 L116.73,328.82 L117.30,329.10 L117.88,329.39 L118.46,329.68 L119.05,329.97 L119.64,330.26 L120.25,330.55 L120.86,330.85 L121.47,331.15 L122.10,331.44 L122.73,331.74 L123.37,332.05 L124.01,332.35 L124.66,332.65 L125.32,332.96 L125.99,333.27 L126.66,333.58 L127.34,333.89 L128.02,334.20 L128.72,334.51 L129.42,334.83 L130.12,335.14 L130.84,335.46 L131.56,335.78 L132.29,336.10 L133.02,336.42 L133.76,336.74 L134.51,337.07 L135.26,337.39 L136.03,337.72 L136.80,338.05 L137.57,338.38 L138.35,338.70 L139.14,339.04 L139.94,339.37 L140.74,339.70 L141.55,340.03 L142.37,340.37 L143.19,340.70 L144.02,341.04 L144.86,341.38 L145.71,341.72 L146.56,342.06 L147.42,342.40 L148.28,342.74 L149.15,343.08 L150.03,343.43 L150.92,343.77 L151.81,344.12 L152.71,344.46 L153.62,344.81 L154.53,345.16 L155.45,345.51 L156.38,345.86 L157.31,346.21 L158.26,346.56 L159.20,346.91 L160.16,347.26 L161.12,347.61 L162.09,347.97 L163.07,348.32 L164.05,348.68 L165.04,349.03 L166.03,349.39 L167.04,349.75 L168.05,350.11 L169.06,350.47 L170.09,350.83 L171.12,351.19 L172.16,351.55 L173.20,351.91 L174.25,352.27 L175.31,352.63 L176.38,353.00 L177.45,353.36 L178.53,353.72 L179.61,354.09 L180.71,354.45 L181.81,354.82 L182.91,355.19 L184.03,355.55 L185.15,355.92 L186.27,356.29 L187.41,356.66 L188.55,357.03 L189.70,357.40 L190.85,357.77 L192.01,358.14 L193.18,358.51 L194.36,358.88 L195.54,359.25 L196.73,359.62 L197.93,360.00 L199.13,360.37 L200.34,360.75 L201.56,361.12 L202.78,361.49 L204.01,361.87 L205.25,362.24 L206.49,362.62 L207.74,363.00 L209.00,363.37 L210.27,363.75 L211.54,364.13 L212.82,364.51 L214.11,364.89 L215.40,365.26 L216.70,365.64 L218.00,366.02 L219.32,366.40 L220.64,366.78 L221.97,367.16 L223.30,367.54 L224.64,367.93 L225.99,368.31 L227.34,368.69 L228.71,369.07 L230.07,369.45 L231.45,369.84 L232.83,370.22 L234.22,370.60 L235.62,370.99 L237.02,371.37 L238.43,371.76 L239.85,372.14 L241.27,372.53 L242.70,372.91 L244.14,373.30 L245.58,373.68 L247.04,374.07 L248.49,374.46 L249.96,374.84 L251.43,375.23 L252.91,375.62 L254.40,376.00 L255.89,376.39 L257.39,376.78 L258.90,377.17 L260.41,377.56 L261.93,377.95 L263.46,378.33 L264.99,378.72 L266.53,379.11 L268.08,379.50 L269.63,379.89 L271.20,380.28 L272.76,380.67 L274.34,381.07 L275.92,381.46 L277.51,381.85 L279.11,382.24 L280.71,382.63 L282.32,383.02 L283.94,383.41 L285.56,383.81 L287.19,384.20 L288.83,384.59 L290.47,384.99 L292.13,385.38 L293.78,385.77 L295.45,386.16 L297.12,386.56 L298.80,386.95 L300.49,387.35 L302.18,387.74 L303.88,388.14 L305.59,388.53 L307.30,388.92 L309.02,389.32 L310.75,389.72 L312.48,390.11 L314.22,390.51 L315.97,390.90 L317.72,391.30 L319.49,391.69 L321.25,392.09 L323.03,392.49 L324.81,392.88 L326.60,393.28 L328.40,393.68 L330.20,394.07 L332.01,394.47 L333.83,394.87 L335.65,395.27 L337.48,395.66 L339.32,396.06 L341.16,396.46 L343.01,396.86 L344.87,397.26 L346.74,397.65 L348.61,398.05 L350.49,398.45 L352.37,398.85 L354.27,399.25 L356.17,399.65 L358.07,400.05 L359.99,400.45 L361.91,400.85 L363.83,401.25 L365.77,401.65 L367.71,402.05 L369.66,402.45 L371.61,402.85 L373.57,403.25 L375.54,403.65 L377.52,404.05 L379.50,404.45 L381.49,404.85 L383.48,405.25 L385.49,405.65 L387.50,406.05 L389.51,406.45 L391.54,406.85 L393.57,407.26 L395.61,407.66 L397.65,408.06 L399.70,408.46 L401.76,408.86 L403.82,409.27 L405.90,409.67 L407.98,410.07 L410.06,410.47 L412.15,410.87 L414.25,411.28 L416.36,411.68 L418.47,412.08 L420.59,412.49 L422.72,412.89 L424.85,413.29 L427.00,413.70 L429.14,414.10 L431.30,414.50 L433.46,414.91 L435.63,415.31 L437.80,415.71 L439.99,416.12 L442.17,416.52 L444.37,416.92 L446.57,417.33 L448.78,417.73 L451.00,418.14 L453.22,418.54 L455.45,418.95 L457.69,419.35 L459.94,419.76 L462.19,420.16 L464.45,420.56 L466.71,420.97 L468.98,421.37 L471.26,421.78 L473.55,422.18 L475.84,422.59 L478.14,423.00 L480.45,423.40 L482.76,423.81 L485.08,424.21 L487.41,424.62 L489.74,425.02 L492.08,425.43 L494.43,425.83 L496.78,426.24 L499.14,426.65 L501.51,427.05 L503.89,427.46 L506.27,427.87 L508.66,428.27 L511.06,428.68 L513.46,429.08 L515.87,429.49 L518.29,429.90 L520.71,430.30 L523.14,430.71 L525.58,431.12 L528.02,431.52 L530.47,431.93 L532.93,432.34 L535.40,432.75 L537.87,433.15 L540.35,433.56 L542.83,433.97 L545.32,434.37 L547.82,434.78 L550.33,435.19 L552.84,435.60 L555.36,436.00 L557.89,436.41 L560.42,436.82 L562.97,437.23 L565.51,437.64 L568.07,438.04 L570.63,438.45 L573.20,438.86 L575.77,439.27 L578.35,439.68 L580.94,440.08 L583.54,440.49 L586.14,440.90 L588.75,441.31 L591.37,441.72 L593.99,442.13 L596.62,442.53 L599.26,442.94 L601.90,443.35 L604.56,443.76 L607.21,444.17 L609.88,444.58 L612.55,444.99 L615.23,445.40 L617.91,445.81 L620.61,446.21 L623.31,446.62 L626.01,447.03 L628.73,447.44 L631.45,447.85 L634.17,448.26 L636.91,448.67 L639.65,449.08 L642.40,449.49 L645.15,449.90 L646.93,450.16" stroke="#00ff00" stroke-width="3.6" stroke-dasharray="8.8 3.05" stroke-dashoffset="1.1"/>
<path d="M93.55,315.43 L93.55,315.44 L93.56,315.45 L93.58,315.46 L93.61,315.49 L93.64,315.52 L93.67,315.56 L93.72,315.61 L93.77,315.66 L93.83,315.72 L93.89,315.78 L93.97,315.86 L94.05,315.94 L94.13,316.02 L94.23,316.12 L94.33,316.22 L94.43,316.32 L94.55,316.44 L94.67,316.56 L94.79,316.68 L94.93,316.82 L95.07,316.95 L95.22,317.10 L95.37,317.25 L95.54,317.41 L95.70,317.57 L95.88,317.74 L96.06,317.92 L96.25,318.10 L96.45,318.28 L96.65,318.48 L96.86,318.67 L97.08,318.88 L97.30,319.09 L97.54,319.30 L97.77,319.52 L98.02,319.75 L98.27,319.98 L98.53,320.21 L98.79,320.45 L99.07,320.69 L99.35,320.94 L99.63,321.20 L99.92,321.46 L100.22,321.72 L100.53,321.99 L100.84,322.26 L101.17,322.53 L101.49,322.81 L101.83,323.10 L102.17,323.39 L102.52,323.68 L102.87,323.98 L103.23,324.28 L103.60,324.58 L103.98,324.89 L104.36,325.20 L104.75,325.51 L105.15,325.83 L105.55,326.15 L105.96,326.48 L106.38,326.80 L106.80,327.13 L107.23,327.47 L107.67,327.81 L108.12,328.15 L108.57,328.49 L109.03,328.84 L109.49,329.18 L109.96,329.54 L110.44,329.89 L110.93,330.25 L111.42,330.61 L111.92,330.97 L112.43,331.33 L112.94,331.70 L113.46,332.07 L113.99,332.44 L114.52,332.82 L115.07,333.19 L115.61,333.57 L116.17,333.95 L116.73,334.33 L117.30,334.72 L117.88,335.11 L118.46,335.49 L119.05,335.89 L119.64,336.28 L120.25,336.67 L120.86,337.07 L121.47,337.47 L122.10,337.87 L122.73,338.27 L123.37,338.67 L124.01,339.08 L124.66,339.48 L125.32,339.89 L125.99,340.30 L126.66,340.71 L127.34,341.13 L128.02,341.54 L128.72,341.96 L129.42,342.37 L130.12,342.79 L130.84,343.21 L131.56,343.63 L132.29,344.06 L133.02,344.48 L133.76,344.90 L134.51,345.33 L135.26,345.76 L136.03,346.19 L136.80,346.62 L137.57,347.05 L138.35,347.48 L139.14,347.91 L139.94,348.35 L140.74,348.78 L141.55,349.22 L142.37,349.66 L143.19,350.10 L144.02,350.54 L144.86,350.98 L145.71,351.42 L146.56,351.86 L147.42,352.30 L148.28,352.75 L149.15,353.19 L150.03,353.64 L150.92,354.09 L151.81,354.53 L152.71,354.98 L153.62,355.43 L154.53,355.88 L155.45,356.33 L156.38,356.78 L157.31,357.24 L158.26,357.69 L159.20,358.14 L160.16,358.60 L161.12,359.05 L162.09,359.51 L163.07,359.97 L164.05,360.42 L165.04,360.88 L166.03,361.34 L167.04,361.80 L168.05,362.26 L169.06,362.72 L170.09,363.18 L171.12,363.64 L172.16,364.10 L173.20,364.57 L174.25,365.03 L175.31,365.50 L176.38,365.96 L177.45,366.43 L178.53,366.89 L179.61,367.36 L180.71,367.82 L181.81,368.29 L182.91,368.76 L184.03,369.23 L185.15,369.70 L186.27,370.17 L187.41,370.64 L188.55,371.11 L189.70,371.58 L190.85,372.05 L192.01,372.52 L193.18,372.99 L194.36,373.46 L195.54,373.94 L196.73,374.41 L197.93,374.88 L199.13,375.36 L200.34,375.83 L201.56,376.31 L202.78,376.78 L204.01,377.26 L205.25,377.73 L206.49,378.21 L207.74,378.69 L209.00,379.16 L210.27,379.64 L211.54,380.12 L212.82,380.60 L214.11,381.08 L215.40,381.55 L216.70,382.03 L218.00,382.51 L219.32,382.99 L220.64,383.47 L221.97,383.95 L223.30,384.44 L224.64,384.92 L225.99,385.40 L227.34,385.88 L228.71,386.36 L230.07,386.84 L231.45,387.33 L232.83,387.81 L234.22,388.29 L235.62,388.78 L237.02,389.26 L238.43,389.74 L239.85,390.23 L241.27,390.71 L242.70,391.20 L244.14,391.68 L245.58,392.17 L247.04,392.65 L248.49,393.14 L249.96,393.63 L251.43,394.11 L252.91,394.60 L254.40,395.08 L255.89,395.57 L257.39,396.06 L258.90,396.55 L260.41,397.03 L261.93,397.52 L263.46,398.01 L264.99,398.50 L266.53,398.99 L268.08,399.48 L269.63,399.96 L271.20,400.45 L272.76,400.94 L274.34,401.43 L275.92,401.92 L277.51,402.41 L279.11,402.90 L280.71,403.39 L282.32,403.88 L283.94,404.37 L285.56,404.86 L287.19,405.36 L288.83,405.85 L290.47,406.34 L292.13,406.83 L293.78,407.32 L295.45,407.81 L297.12,408.31 L298.80,408.80 L300.49,409.29 L302.18,409.78 L303.88,410.28 L305.59,410.77 L307.30,411.26 L309.02,411.76 L310.75,412.25 L312.48,412.74 L314.22,413.24 L315.97,413.73 L317.72,414.22 L319.49,414.72 L321.25,415.21 L323.03,415.71 L324.81,416.20 L326.60,416.70 L328.40,417.19 L330.20,417.69 L332.01,418.18 L333.83,418.68 L335.65,419.17 L337.48,419.67 L339.32,420.16 L341.16,420.66 L343.01,421.15 L344.87,421.65 L346.74,422.15 L348.61,422.64 L350.49,423.14 L352.37,423.64 L354.27,424.13 L356.17,424.63 L358.07,425.13 L359.99,425.62 L361.91,426.12 L363.83,426.62 L365.77,427.12 L367.71,427.61 L369.66,428.11 L371.61,428.61 L373.57,429.11 L375.54,429.60 L377.52,430.10 L379.50,430.60 L381.49,431.10 L383.48,431.60 L385.49,432.09 L387.50,432.59 L389.51,433.09 L391.54,433.59 L393.57,434.09 L395.61,434.59 L397.65,435.09 L399.70,435.59 L401.76,436.09 L403.82,436.59 L405.90,437.08 L407.98,437.58 L410.06,438.08 L412.15,438.58 L414.25,439.08 L416.36,439.58 L418.47,440.08 L420.59,440.58 L422.72,441.08 L424.85,441.58 L427.00,442.08 L429.14,442.58 L431.30,443.08 L433.46,443.58 L435.63,444.09 L437.80,444.59 L439.99,445.09 L442.17,445.59 L444.37,446.09 L446.57,446.59 L448.78,447.09 L451.00,447.59 L453.22,448.09 L455.45,448.59 L457.69,449.10 L459.94,449.60 L462.19,450.10 L464.45,450.60 L466.71,451.10 L468.98,451.60 L471.26,452.11 L473.55,452.61 L475.84,453.11 L478.14,453.61 L480.45,454.11 L482.76,454.62 L485.08,455.12 L487.41,455.62 L489.74,456.12 L492.08,456.63 L494.43,457.13 L496.78,457.63 L499.14,458.13 L501.51,458.64 L503.89,459.14 L506.27,459.64 L508.66,460.14 L511.06,460.65 L513.46,461.15 L515.87,461.65 L518.29,462.16 L520.71,462.66 L523.14,463.16 L525.58,463.67 L528.02,464.17 L530.47,464.67 L532.93,465.18 L535.40,465.68 L537.87,466.18 L540.35,466.69 L542.83,467.19 L545.32,467.70 L547.82,468.20 L550.33,468.70 L552.84,469.21 L555.36,469.71 L557.89,470.21 L560.42,470.72 L562.97,471.22 L565.51,471.73 L568.07,472.23 L570.63,472.74 L573.20,473.24 L575.77,473.74 L578.35,474.25 L580.94,474.75 L583.54,475.26 L586.14,475.76 L588.75,476.27 L591.37,476.77 L593.99,477.28 L596.62,477.78 L599.26,478.29 L601.90,478.79 L604.56,479.30 L607.21,479.80 L609.88,480.31 L612.55,480.81 L615.23,481.32 L617.91,481.82 L620.61,482.33 L623.31,482.83 L626.01,483.34 L628.73,483.84 L631.45,484.35 L634.17,484.85 L636.91,485.36 L639.65,485.86 L642.40,486.37 L645.15,486.87 L646.92,487.20" stroke="#000000" stroke-width="3.6" stroke-dasharray="8.8 3.05" stroke-dashoffset="1.1"/>
</g>
<g stroke="#666666" stroke-width="1" fill="none">
<rect x="93.55" y="52.65" width="728.15" height="450.35" stroke-width="1.2"/>
<path d="M93.55,503.10h5.4 M93.55,484.33h3.3 M93.55,465.56h3.3 M93.55,446.80h3.3 M93.55,428.03h5.4 M93.55,409.27h3.3 M93.55,390.50h3.3 M93.55,371.73h3.3 M93.55,352.97h5.4 M93.55,334.20h3.3 M93.55,315.43h3.3 M93.55,296.67h3.3 M93.55,277.90h5.4 M93.55,259.13h3.3 M93.55,240.37h3.3 M93.55,221.60h3.3 M93.55,202.83h5.4 M93.55,184.07h3.3 M93.55,165.30h3.3 M93.55,146.53h3.3 M93.55,127.77h5.4 M93.55,109.00h3.3 M93.55,90.23h3.3 M93.55,71.47h3.3 M93.55,52.70h5.4 M93.55,503.0v-5.4 M115.61,503.0v-3.3 M137.68,503.0v-3.3 M159.74,503.0v-3.3 M181.81,503.0v-3.3 M203.87,503.0v-5.4 M225.93,503.0v-3.3 M248.00,503.0v-3.3 M270.06,503.0v-3.3 M292.13,503.0v-3.3 M314.19,503.0v-5.4 M336.25,503.0v-3.3 M358.32,503.0v-3.3 M380.38,503.0v-3.3 M402.45,503.0v-3.3 M424.51,503.0v-5.4 M446.57,503.0v-3.3 M468.64,503.0v-3.3 M490.70,503.0v-3.3 M512.77,503.0v-3.3 M534.83,503.0v-5.4 M556.89,503.0v-3.3 M578.96,503.0v-3.3 M601.02,503.0v-3.3 M623.09,503.0v-3.3 M645.15,503.0v-5.4 M667.21,503.0v-3.3 M689.28,503.0v-3.3 M711.34,503.0v-3.3 M733.41,503.0v-3.3 M755.47,503.0v-5.4 M777.53,503.0v-3.3 M799.60,503.0v-3.3 M821.66,503.0v-3.3"/>
</g>
<path d="M93.50,52.65v7.4 M148.50,52.65v4.1 M203.50,52.65v4.1 M259.50,52.65v4.1 M314.50,52.65v7.4 M369.50,52.65v4.1 M424.50,52.65v4.1 M479.50,52.65v4.1 M534.50,52.65v7.4 M589.50,52.65v4.1 M645.50,52.65v4.1 M700.50,52.65v4.1 M755.50,52.65v7.4 M810.50,52.65v4.1" stroke="#b6b6b6" stroke-width="1" fill="none"/>
<path d="M821.7,503.10h-7.5 M821.7,484.33h-4.3 M821.7,465.56h-4.3 M821.7,446.80h-4.3 M821.7,428.03h-7.5 M821.7,409.27h-4.3 M821.7,390.50h-4.3 M821.7,371.73h-4.3 M821.7,352.97h-7.5 M821.7,334.20h-4.3 M821.7,315.43h-4.3 M821.7,296.67h-4.3 M821.7,277.90h-7.5 M821.7,259.13h-4.3 M821.7,240.37h-4.3 M821.7,221.60h-4.3 M821.7,202.83h-7.5 M821.7,184.07h-4.3 M821.7,165.30h-4.3 M821.7,146.53h-4.3 M821.7,127.77h-7.5 M821.7,109.00h-4.3 M821.7,90.23h-4.3 M821.7,71.47h-4.3 M821.7,52.70h-7.5" stroke="#a4a4a4" stroke-width="0.7" fill="none"/>
<g fill="#666666">
<text transform="translate(86.60,62.20) scale(0.93,1)" font-size="28.8" text-anchor="end">6</text>
<text transform="translate(86.60,137.27) scale(0.93,1)" font-size="28.8" text-anchor="end">4</text>
<text transform="translate(86.60,212.33) scale(0.93,1)" font-size="28.8" text-anchor="end">2</text>
<text transform="translate(86.60,287.40) scale(0.93,1)" font-size="28.8" text-anchor="end">0</text>
<text transform="translate(86.60,362.47) scale(0.93,1)" font-size="28.8" text-anchor="end">2</text>
<rect x="55.9" y="354.27" width="13.1" height="2.2"/>
<text transform="translate(86.60,437.53) scale(0.93,1)" font-size="28.8" text-anchor="end">4</text>
<rect x="55.9" y="429.33" width="13.1" height="2.2"/>
<text transform="translate(86.60,512.60) scale(0.93,1)" font-size="28.8" text-anchor="end">6</text>
<rect x="55.9" y="504.40" width="13.1" height="2.2"/>
<text transform="translate(93.05,533.70) scale(0.93,1)" font-size="28.8" text-anchor="middle">0</text>
<path transform="translate(196.28,533.70) scale(0.013330,-0.013330)" d="M763 0H583V1147Q518 1085 412.5 1023T223 930V1104Q373 1174.5 485.5 1275T644 1470H763Z"/>
<text transform="translate(313.69,533.70) scale(0.93,1)" font-size="28.8" text-anchor="middle">2</text>
<text transform="translate(424.01,533.70) scale(0.93,1)" font-size="28.8" text-anchor="middle">3</text>
<text transform="translate(534.33,533.70) scale(0.93,1)" font-size="28.8" text-anchor="middle">4</text>
<text transform="translate(644.65,533.70) scale(0.93,1)" font-size="28.8" text-anchor="middle">5</text>
<text transform="translate(754.97,533.70) scale(0.93,1)" font-size="28.8" text-anchor="middle">6</text>
<text transform="translate(457.65,575.20) scale(0.99,1)" font-size="28.1" text-anchor="middle">B</text>
<text transform="translate(457.70,31.00) scale(0.955,1)" font-size="33.3" text-anchor="middle">(a)</text>
<text transform="translate(0.13,285.50) scale(0.975,1)" font-size="28.8" text-anchor="start" font-style="italic">E</text>
<text transform="translate(19.10,292.70) scale(0.95,1)" font-size="20.4" text-anchor="start" font-style="italic">n</text>
<text transform="translate(19.00,274.00) scale(0.985,1)" font-size="19.6" text-anchor="start">(</text>
<text transform="translate(25.50,275.40) scale(0.95,1)" font-size="19.6" text-anchor="start">&gt;</text>
<text transform="translate(36.95,274.00) scale(0.985,1)" font-size="19.6" text-anchor="start">)</text>
</g>
<line x1="692.8" y1="124.55" x2="731.1" y2="124.55" stroke="#0000ff" stroke-width="4.0"/>
<text x="744.0" y="133.95" font-size="24" fill="#000" stroke="#000" stroke-width="0.25">n</text>
<rect x="765.1" y="124.23" width="11.6" height="1.9" fill="#000"/><rect x="765.1" y="129.23" width="11.6" height="1.9" fill="#000"/>
<text x="784.7" y="133.95" font-size="24" fill="#000" stroke="#000" stroke-width="0.25">0</text>
<line x1="692.8" y1="165.37" x2="731.1" y2="165.37" stroke="#ff0000" stroke-width="4.0"/>
<text x="744.0" y="174.77" font-size="24" fill="#000" stroke="#000" stroke-width="0.25">n</text>
<rect x="765.1" y="165.05" width="11.6" height="1.9" fill="#000"/><rect x="765.1" y="170.05" width="11.6" height="1.9" fill="#000"/>
<path transform="translate(784.98,174.77) scale(0.011816,-0.011816)" d="M763 0H583V1147Q518 1085 412.5 1023T223 930V1104Q373 1174.5 485.5 1275T644 1470H763Z" fill="#000"/>
<line x1="692.8" y1="206.18" x2="731.1" y2="206.18" stroke="#00ff00" stroke-width="4.0"/>
<text x="744.0" y="215.58" font-size="24" fill="#000" stroke="#000" stroke-width="0.25">n</text>
<rect x="765.1" y="205.86" width="11.6" height="1.9" fill="#000"/><rect x="765.1" y="210.86" width="11.6" height="1.9" fill="#000"/>
<text x="784.7" y="215.58" font-size="24" fill="#000" stroke="#000" stroke-width="0.25">2</text>
<line x1="692.8" y1="247.0" x2="731.1" y2="247.0" stroke="#000000" stroke-width="4.0"/>
<text x="744.0" y="256.40" font-size="24" fill="#000" stroke="#000" stroke-width="0.25">n</text>
<rect x="765.1" y="246.68" width="11.6" height="1.9" fill="#000"/><rect x="765.1" y="251.68" width="11.6" height="1.9" fill="#000"/>
<text x="784.7" y="256.40" font-size="24" fill="#000" stroke="#000" stroke-width="0.25">3</text>
</svg>
</body></html>
